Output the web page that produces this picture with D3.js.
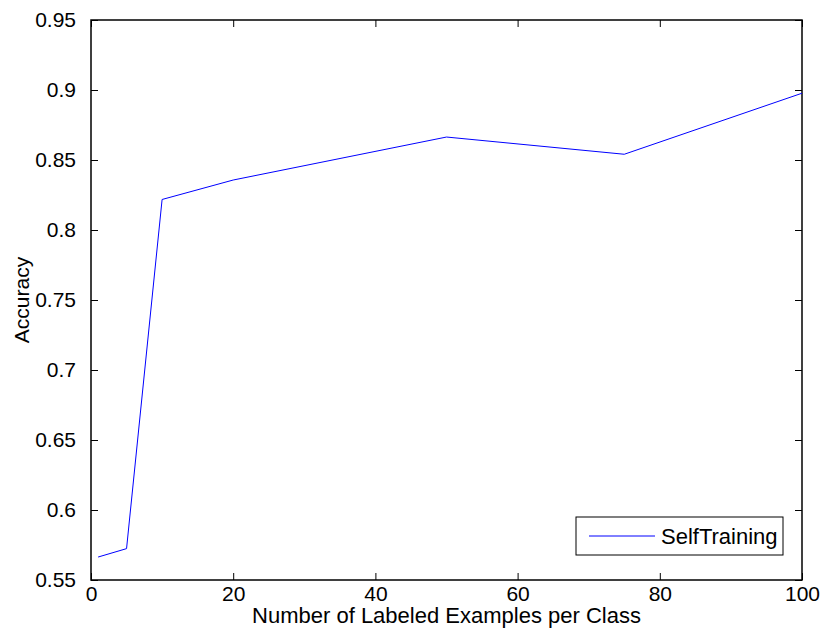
<!DOCTYPE html>
<html>
<head>
<meta charset="utf-8">
<script src="https://cdn.jsdelivr.net/npm/d3@7/dist/d3.min.js"></script>
<style>
  html, body { margin: 0; padding: 0; background: #fff; }
  svg { display: block; }
  text { font-family: "Liberation Sans", Arial, Helvetica, sans-serif; fill: #000; }
</style>
</head>
<body>
<svg id="chart" width="821" height="635"></svg>
<script>
// Accuracy of self-training versus the number of labeled examples per class
const labeledPerClass = [1, 5, 10, 20, 50, 75, 100];
const accuracy = [0.5664, 0.5724, 0.8218, 0.8357, 0.8664, 0.8541, 0.8977];
const seriesName = "SelfTraining";
const xTicks = [0, 20, 40, 60, 80, 100];
const yTicks = [0.55, 0.6, 0.65, 0.7, 0.75, 0.8, 0.85, 0.9, 0.95];
const xTitle = "Number of Labeled Examples per Class";
const yTitle = "Accuracy";

const W = 821, H = 635;
const m = { left: 91, right: 19, top: 20, bottom: 55 };
const iw = W - m.left - m.right, ih = H - m.top - m.bottom;
const fs = 21, tickLen = 7;

const svg = d3.select("#chart");
const x = d3.scaleLinear().domain([0, 100]).range([m.left, m.left + iw]);
const y = d3.scaleLinear().domain([0.55, 0.95]).range([m.top + ih, m.top]);

// Frame
svg.append("rect")
  .attr("x", m.left).attr("y", m.top).attr("width", iw).attr("height", ih)
  .attr("fill", "#fff").attr("stroke", "#000").attr("stroke-width", 1.5);

function styleAxis(g) {
  g.select(".domain").remove();
  g.selectAll(".tick line").attr("stroke", "#000").attr("stroke-width", 1);
  g.selectAll(".tick text").attr("font-size", fs).attr("fill", "#000");
}

// Bottom and left axes with inward ticks
svg.append("g")
  .attr("transform", `translate(0,${m.top + ih})`)
  .call(d3.axisBottom(x).tickValues(xTicks).tickFormat(d3.format("d"))
    .tickSizeInner(-tickLen).tickSizeOuter(0).tickPadding(6))
  .call(styleAxis);

svg.append("g")
  .attr("transform", `translate(${m.left},0)`)
  .call(d3.axisLeft(y).tickValues(yTicks).tickFormat(d => d3.format("")(+d.toFixed(2)))
    .tickSizeInner(-tickLen).tickSizeOuter(0).tickPadding(15))
  .call(styleAxis);

// Top and right tick marks (no labels)
svg.append("g")
  .attr("transform", `translate(0,${m.top})`)
  .call(d3.axisTop(x).tickValues(xTicks).tickFormat("").tickSizeInner(-tickLen).tickSizeOuter(0))
  .call(styleAxis);

svg.append("g")
  .attr("transform", `translate(${m.left + iw},0)`)
  .call(d3.axisRight(y).tickValues(yTicks).tickFormat("").tickSizeInner(-tickLen).tickSizeOuter(0))
  .call(styleAxis);

// Data line
const line = d3.line().x((d, i) => x(labeledPerClass[i])).y(d => y(d));
svg.append("path")
  .datum(accuracy)
  .attr("d", line)
  .attr("fill", "none")
  .attr("stroke", "#0000ff")
  .attr("stroke-width", 1);

// Axis titles
svg.append("text")
  .attr("x", m.left + iw / 2).attr("y", 623)
  .attr("text-anchor", "middle").attr("font-size", 22)
  .text(xTitle);

svg.append("text")
  .attr("transform", `translate(29,${m.top + ih / 2}) rotate(-90)`)
  .attr("text-anchor", "middle").attr("font-size", fs)
  .text(yTitle);

// Legend
const lg = svg.append("g");
lg.append("rect")
  .attr("x", 576).attr("y", 517).attr("width", 207).attr("height", 38)
  .attr("fill", "#fff").attr("stroke", "#000").attr("stroke-width", 1);
lg.append("line")
  .attr("x1", 589).attr("x2", 655).attr("y1", 536).attr("y2", 536)
  .attr("stroke", "#0000ff").attr("stroke-width", 1);
lg.append("text")
  .attr("x", 661).attr("y", 544)
  .attr("font-size", 22)
  .text(seriesName);
</script>
</body>
</html>
